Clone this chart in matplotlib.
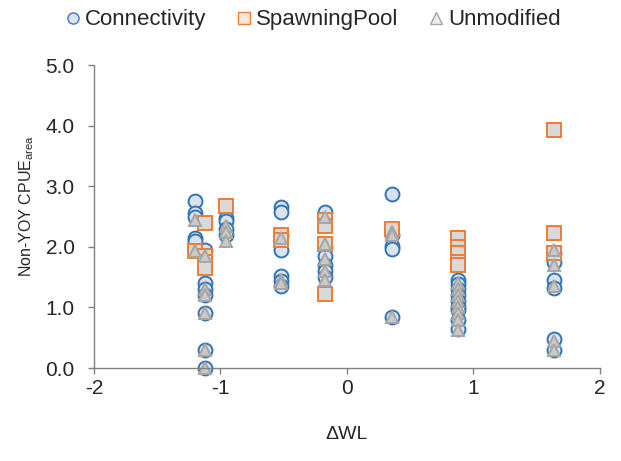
import matplotlib.pyplot as plt

plt.rcParams['font.family'] = ['Liberation Sans', 'DejaVu Sans']
plt.rcParams['axes.unicode_minus'] = False

# Connectivity lakes
conn_x = [-1.2] * 5 + [-1.12] * 7 + [-0.96] * 4 + [-0.52] * 7 + [-0.17] * 6 + [0.36] * 5 + [0.88] * 9 + [1.64] * 6
conn_y = [2.75, 2.55, 2.5, 2.15, 2.1,
          1.95, 1.4, 1.3, 1.2, 0.9, 0.3, 0.0,
          2.48, 2.42, 2.3, 2.2,
          2.65, 2.58, 2.2, 1.95, 1.52, 1.43, 1.35,
          2.57, 2.0, 1.85, 1.7, 1.6, 1.5,
          2.87, 2.2, 2.02, 1.97, 0.85,
          1.45, 1.38, 1.3, 1.2, 1.1, 1.0, 0.95, 0.8, 0.65,
          1.9, 1.75, 1.45, 1.32, 0.48, 0.3]

# Spawning pool lakes
pool_x = [-1.2] + [-1.12] * 4 + [-0.96] + [-0.52] * 2 + [-0.17] * 4 + [0.36] + [0.88] * 5 + [1.64] * 3
pool_y = [1.93,
          2.4, 1.85, 1.75, 1.65,
          2.67,
          2.2, 2.12,
          2.45, 2.35, 2.05, 1.22,
          2.3,
          2.15, 2.0, 1.9, 1.75, 1.7,
          3.93, 2.23, 1.9]

# Unmodified lakes
unmod_x = [-1.2] * 2 + [-1.12] * 6 + [-0.96] * 3 + [-0.52] * 3 + [-0.17] * 5 + [0.36] * 3 + [0.88] * 8 + [1.64] * 5
unmod_y = [2.45, 1.93,
           1.85, 1.3, 1.2, 0.9, 0.3, 0.0,
           2.35, 2.25, 2.1,
           2.15, 1.45, 1.4,
           2.5, 2.05, 1.8, 1.6, 1.45,
           2.25, 2.2, 0.85,
           1.4, 1.3, 1.2, 1.1, 1.0, 0.9, 0.8, 0.62,
           1.95, 1.7, 1.35, 0.45, 0.3]

fig = plt.figure(figsize=(6.21, 4.61), dpi=100)
ax = fig.add_axes([0.1514, 0.2017, 0.8146, 0.6573])

ax.plot(conn_x, conn_y, 'o', ms=10, mfc='#DCE2EC', mec='#2E75B6', mew=1.4,
        label='Connectivity', clip_on=False)
ax.plot(pool_x, pool_y, 's', ms=9.5, mfc='#D9D9D9', mec='#ED7D31', mew=1.4,
        label='SpawningPool', clip_on=False)
ax.plot(unmod_x, unmod_y, '^', ms=8.5, mfc='#C9C9C9', mec='#A5A5A5', mew=1.4,
        label='Unmodified', clip_on=False)

ax.set_xlim(-2, 2)
ax.set_ylim(0, 5)
ax.set_xticks([-2, -1, 0, 1, 2])
ax.set_yticks([0, 1, 2, 3, 4, 5])
ax.set_yticklabels([f'{v:.1f}' for v in range(6)])

for side in ('top', 'right'):
    ax.spines[side].set_visible(False)
for side in ('left', 'bottom'):
    ax.spines[side].set_color('#808080')
    ax.spines[side].set_linewidth(1.0)
ax.tick_params(direction='out', length=4, width=1.0, color='#808080',
               labelsize=15, labelcolor='#262626')
ax.tick_params(axis='y', pad=10)
ax.tick_params(axis='x', pad=4)

ax.set_xlabel('ΔWL', fontsize=14, color='#262626', labelpad=20)
ax.set_ylabel('Non-YOY CPUE$_{\\mathregular{area}}$', fontsize=11.5,
              color='#262626', labelpad=12)
ax.yaxis.set_label_coords(-0.115, 0.535)

handles = [
    plt.Line2D([], [], ls='', marker='o', ms=8, mfc='#DAE3F3', mec='#4472C4', mew=1.0),
    plt.Line2D([], [], ls='', marker='s', ms=8, mfc='#FBE5D6', mec='#ED7D31', mew=1.0),
    plt.Line2D([], [], ls='', marker='^', ms=8, mfc='#EDEDED', mec='#A5A5A5', mew=1.0),
]
fig.legend(handles, ['Connectivity', 'SpawningPool', 'Unmodified'],
           loc='center', bbox_to_anchor=(0.505, 0.957), ncol=3, frameon=False,
           fontsize=16, handlelength=0.6, handletextpad=0.25, columnspacing=1.4,
           labelcolor='#262626')

fig.savefig('out.png', dpi=100)
